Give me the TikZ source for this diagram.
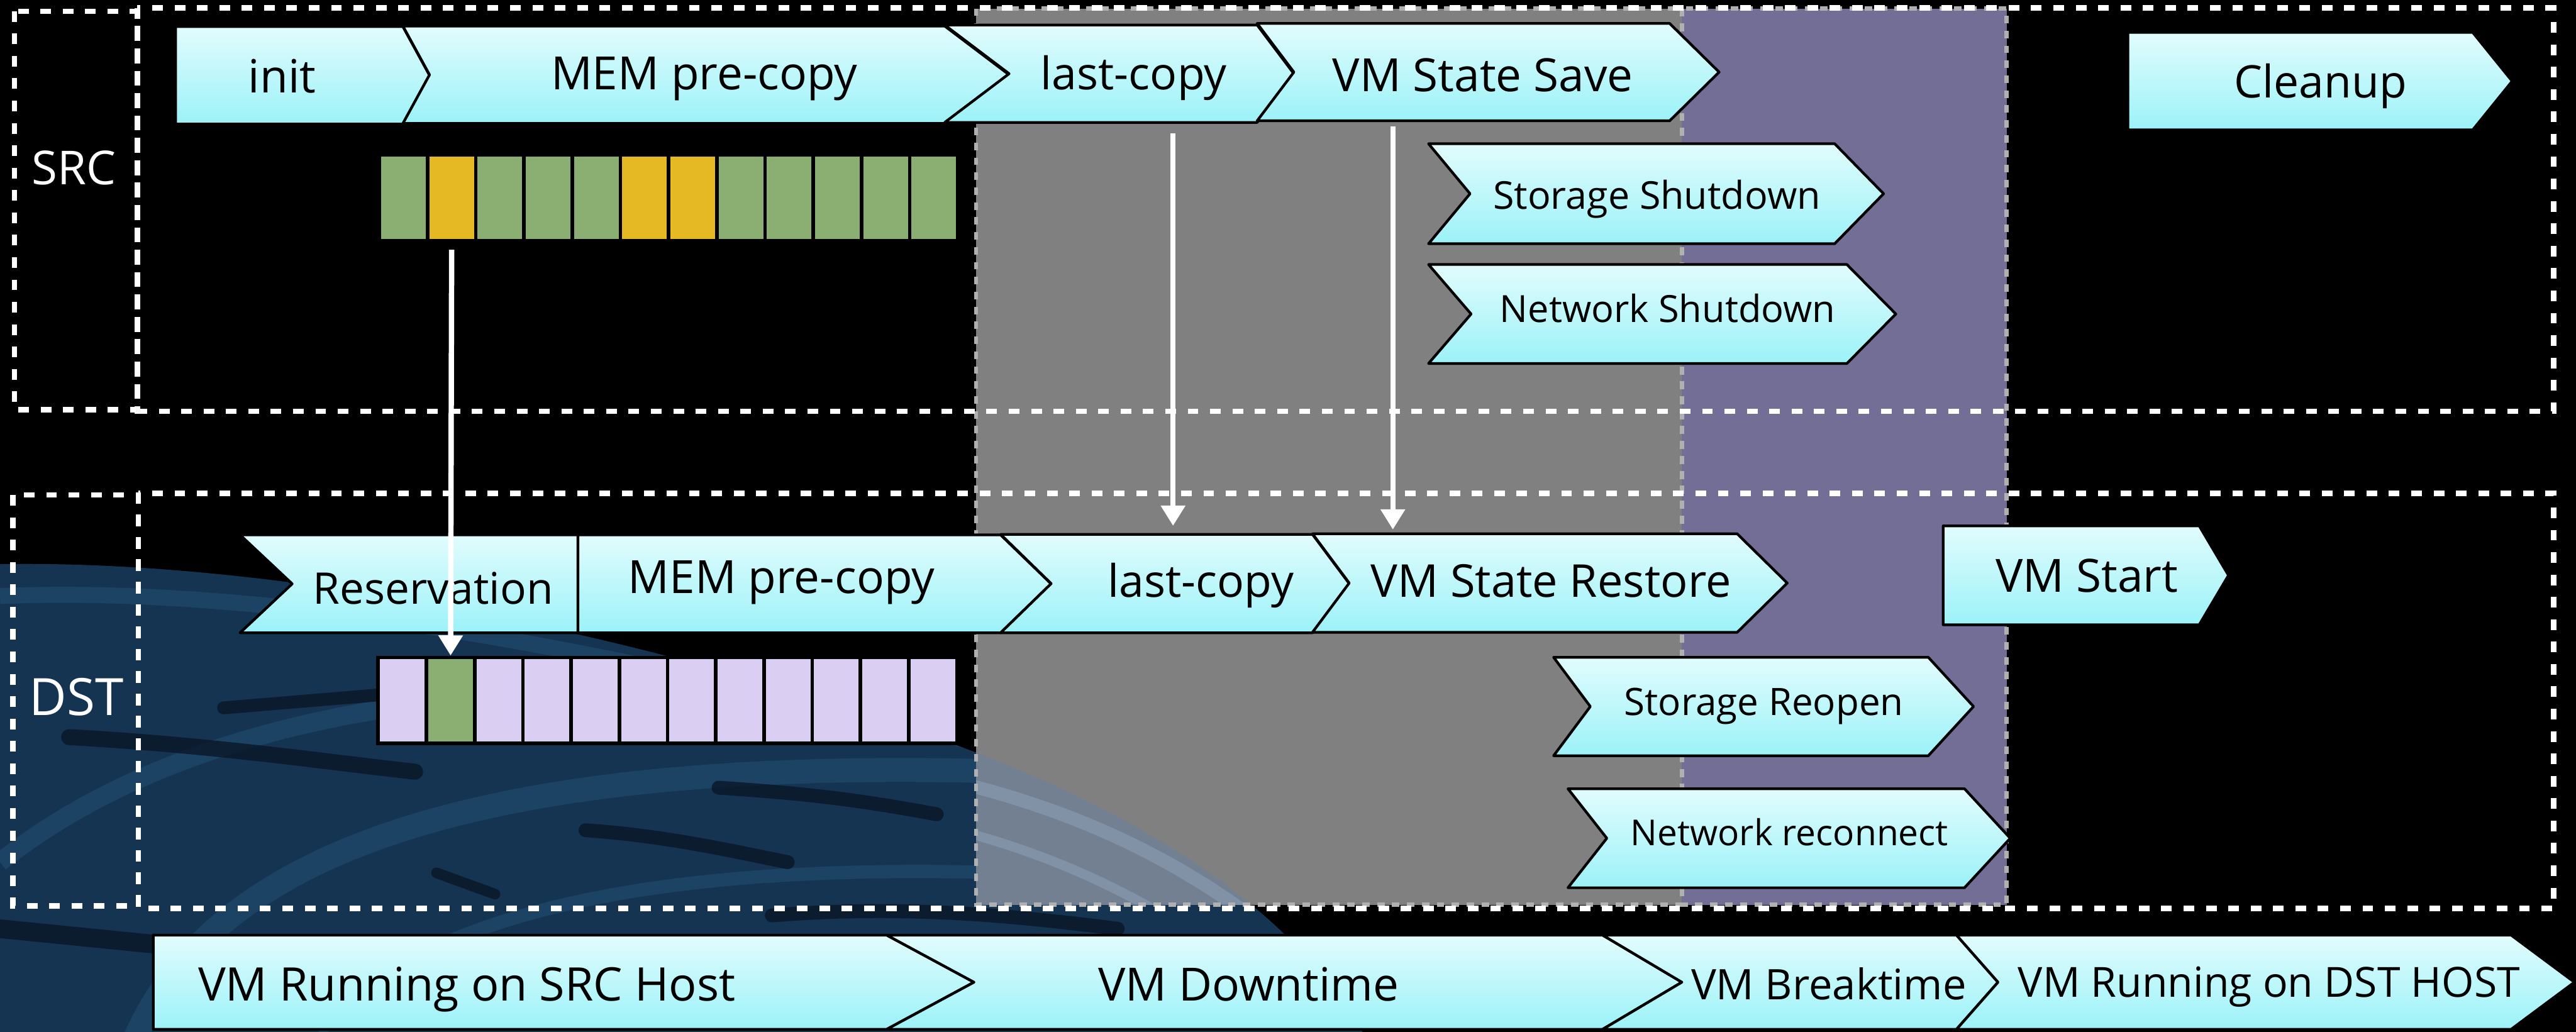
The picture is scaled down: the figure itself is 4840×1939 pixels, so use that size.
\documentclass[tikz,border=0pt]{standalone}
\usepackage{fontspec}
\setmainfont{Open Sans}
\usetikzlibrary{arrows.meta}

\definecolor{cyantop}{RGB}{226,252,253}
\definecolor{cyanbot}{RGB}{155,242,248}
\definecolor{memgreen}{RGB}{139,174,115}
\definecolor{memyellow}{RGB}{229,185,36}
\definecolor{memlilac}{RGB}{218,207,242}
\definecolor{downgray}{RGB}{128,128,128}
\definecolor{breakpurple}{RGB}{115,110,150}
\definecolor{zoneedge}{RGB}{176,176,176}
\definecolor{swirlbase}{RGB}{20,52,82}
\definecolor{swirllight}{RGB}{36,82,118}
\definecolor{swirldark}{RGB}{8,20,34}
\definecolor{swirlgray}{RGB}{114,128,146}
\definecolor{swirlgraylight}{RGB}{140,158,180}

% one process step: left x, notch depth, right x, tip depth, top y, bottom y
\newcommand\chev[6]{%
  \shadedraw[chevshape] (#1,#5) -- (#3,#5) -- ({#3+#4},{(#5+#6)/2}) -- (#3,#6)
    -- (#1,#6) -- ({#1+#2},{(#5+#6)/2}) -- cycle;}

% outline of the swirl in the lower left
\newcommand\swirlpath{(0,1060) .. controls (600,1050) and (1350,1230) .. (1850,1420)
  .. controls (2150,1540) and (2420,1700) .. (2560,1939) -- (0,1939) -- cycle}

\begin{document}
\begin{tikzpicture}[x=0.01cm, y=-0.01cm,
  chevshape/.style={draw=black, line width=0.05cm, line join=round,
    top color=cyantop, middle color=cyanbot, bottom color=cyanbot},
  lbl/.style={anchor=base, inner sep=0pt, text=black, font=\fontsize{#1}{#1}\selectfont},
  hostlbl/.style={anchor=base, inner sep=0pt, text=white, font=\fontsize{#1}{#1}\selectfont},
  hostbox/.style={draw=white, line width=0.1cm, dash pattern=on 0.2cm off 0.22cm},
  zone/.style={draw=zoneedge, line width=0.08cm, dash pattern=on 0.14cm off 0.14cm},
  cell/.style={minimum width=0.84cm, minimum height=1.55cm, inner sep=0pt, draw=none},
  streak/.style={swirldark, line cap=round, opacity=0.75},
  fibre/.style={swirllight, opacity=0.5},
  warrow/.style={draw=white, line width=0.1cm, -{Triangle[width=0.44cm,length=0.38cm]}}]

\useasboundingbox (0,0) rectangle (4840,1939);
\fill[black] (0,0) rectangle (4840,1939);

% ---- swirl in the background ----
\fill[swirlbase] \swirlpath;
\begin{scope}
  \clip \swirlpath;
  \draw[fibre, line width=0.45cm] (250,1960) .. controls (400,1600) and (900,1420) .. (1900,1450);
  \draw[fibre, line width=0.3cm] (0,1120) .. controls (500,1100) and (1100,1210) .. (1850,1400);
  \draw[fibre, line width=0.35cm] (0,1620) .. controls (300,1380) and (800,1260) .. (1450,1310);
  \draw[fibre, line width=0.25cm] (600,1939) .. controls (800,1700) and (1300,1600) .. (2100,1650);
  \draw[streak, line width=0.3cm] (130,1385) .. controls (400,1400) and (600,1430) .. (780,1450);
  \draw[streak, line width=0.24cm] (420,1330) -- (720,1305);
  \draw[streak, line width=0.2cm] (820,1640) -- (930,1680);
  \draw[streak, line width=0.26cm] (1100,1560) .. controls (1250,1570) and (1380,1600) .. (1480,1620);
  \draw[streak, line width=0.26cm] (1350,1480) .. controls (1500,1490) and (1600,1500) .. (1760,1530);
  \draw[streak, line width=0.35cm] (0,1745) -- (300,1775);
  \draw[streak, line width=0.26cm] (1450,1720) .. controls (1700,1700) and (1900,1720) .. (2100,1745);
\end{scope}

% ---- downtime and breaktime zones ----
\fill[downgray] (1834,16) rectangle (3160,1700);
\begin{scope}
  \clip (1834,16) rectangle (3160,1700);
  \fill[swirlgray] \swirlpath;
  \clip \swirlpath;
  \draw[swirlgraylight, line width=0.25cm, opacity=0.6] (1800,1470) .. controls (2000,1520) and (2200,1600) .. (2400,1760);
  \draw[swirlgraylight, line width=0.18cm, opacity=0.6] (1800,1560) .. controls (1950,1600) and (2100,1660) .. (2250,1760);
\end{scope}
\fill[breakpurple] (3160,16) rectangle (3770,1700);
\draw[zone] (1834,16) rectangle (3160,1700);
\draw[zone] (3160,16) rectangle (3770,1700);

% ---- host frames ----
\draw[hostbox] (27,21) rectangle (258,770);
\draw[hostbox] (258,15) rectangle (4798,773);
\draw[hostbox] (24,930) rectangle (260,1702);
\draw[hostbox] (260,927) rectangle (4798,1707);
\node[hostlbl=25] (srcLabel) at (139,347) {SRC};
\node[hostlbl=27.5] (dstLabel) at (144,1344) {DST};

% ---- memory pages ----
\foreach \c [count=\i] in {memgreen,memyellow,memgreen,memgreen,memgreen,memyellow,
    memyellow,memgreen,memgreen,memgreen,memgreen,memgreen}
  \node[cell, fill=\c] (s\i) at ({758+90.6*(\i-1)},372) {};
\fill[black] (707,1232) rectangle (1802,1400);
\foreach \c [count=\i] in {memlilac,memgreen,memlilac,memlilac,memlilac,memlilac,
    memlilac,memlilac,memlilac,memlilac,memlilac,memlilac}
  \node[cell, fill=\c] (d\i) at ({756+90.6*(\i-1)},1316) {};

% ---- source host steps ----
\chev{330}{0}{757}{50}{50}{233}
\chev{757}{50}{1775}{121}{49}{232}
\chev{1775}{121}{2362}{69}{47}{230}
\chev{2362}{69}{3137}{93}{44}{227}
\chev{2684}{78}{3447}{92}{270}{458}
\chev{2684}{80}{3470}{92}{497}{683}
\chev{3998}{0}{4646}{74}{61}{244}
\node[lbl=24.5] (init) at (530,174) {init};
\node[lbl=24.5] (memS) at (1323,168) {MEM pre-copy};
\node[lbl=24] (lastS) at (2130,168) {last-copy};
\node[lbl=24.5] (saveS) at (2786,172) {VM State Save};
\node[lbl=20.5] (stoS) at (3113,393) {Storage Shutdown};
\node[lbl=20] (netS) at (3133,605) {Network Shutdown};
\node[lbl=24] (clean) at (4360,184) {Cleanup};

% ---- destination host steps ----
\chev{451}{98}{1086}{0}{1005}{1189}
\chev{1086}{0}{1880}{95}{1005}{1189}
\chev{1880}{95}{2466}{69}{1004}{1189}
\chev{2466}{69}{3264}{94}{1003}{1188}
\chev{2919}{69}{3623}{85}{1235}{1420}
\chev{2946}{73}{3691}{86}{1482}{1668}
\chev{3651}{0}{4132}{55}{988}{1174}
\node[lbl=23.3] (resv) at (814,1135) {Reservation};
\node[lbl=24.5] (memD) at (1468,1115) {MEM pre-copy};
\node[lbl=24] (lastD) at (2256,1122) {last-copy};
\node[lbl=24.2] (restD) at (2914,1122) {VM State Restore};
\node[lbl=20.2] (stoD) at (3314,1344) {Storage Reopen};
\node[lbl=19.1] (netD) at (3362,1589) {Network reconnect};
\node[lbl=24.5] (start) at (3921,1112) {VM Start};

% ---- overall phases ----
\chev{288}{0}{1666}{164}{1757}{1934}
\chev{1666}{164}{3011}{149}{1757}{1934}
\chev{3011}{149}{3676}{78}{1757}{1934}
\chev{3676}{78}{4718}{119}{1757}{1934}
\node[lbl=24.75] (runS) at (877,1881) {VM Running on SRC Host};
\node[lbl=24.5] (down) at (2346,1881) {VM Downtime};
\node[lbl=22.5] (brk) at (3436,1878) {VM Breaktime};
\node[lbl=22.2] (runD) at (4263,1874) {VM Running on DST HOST};

% ---- transfers ----
\coordinate (lastS-out) at (2204,250);
\coordinate (lastD-in) at (2204,988);
\coordinate (saveS-out) at (2617,237);
\coordinate (restD-in) at (2617,995);
\draw[warrow] ([yshift=-0.19cm]s2.south) -- ([yshift=0.06cm]d2.north);
\draw[warrow] (lastS-out) -- (lastD-in);
\draw[warrow] (saveS-out) -- (restD-in);
\end{tikzpicture}
\end{document}
